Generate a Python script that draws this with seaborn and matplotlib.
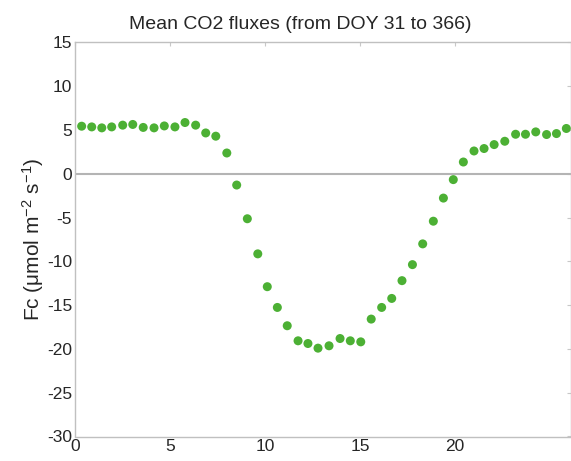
import matplotlib.pyplot as plt
import pandas as pd
import seaborn as sns

# half-hourly mean CO2 flux
hours = [0.35, 0.88, 1.41, 1.93, 2.51, 3.04, 3.59, 4.16, 4.70, 5.26,
         5.79, 6.35, 6.88, 7.41, 7.99, 8.51, 9.07, 9.62, 10.12, 10.65,
         11.17, 11.74, 12.26, 12.79, 13.37, 13.95, 14.49, 15.04, 15.59, 16.14,
         16.67, 17.21, 17.76, 18.30, 18.86, 19.39, 19.91, 20.44, 21.00, 21.53,
         22.06, 22.62, 23.19, 23.71, 24.25, 24.82, 25.34, 25.86]
fc = [5.44, 5.36, 5.25, 5.36, 5.56, 5.64, 5.30, 5.25, 5.47, 5.36,
      5.86, 5.56, 4.67, 4.30, 2.38, -1.28, -5.13, -9.14, -12.89, -15.26,
      -17.35, -19.07, -19.38, -19.91, -19.64, -18.81, -19.07, -19.19, -16.59, -15.26,
      -14.23, -12.20, -10.37, -8.00, -5.41, -2.77, -0.66, 1.35, 2.61, 2.89,
      3.34, 3.72, 4.52, 4.52, 4.79, 4.49, 4.60, 5.18]

df = pd.DataFrame({"hour": hours, "fc": fc})

sns.set_style("white")
plt.rcParams['font.family'] = ['Liberation Sans', 'DejaVu Sans']
plt.rcParams['axes.unicode_minus'] = False
plt.rcParams['mathtext.default'] = 'regular'

fig = plt.figure(figsize=(5.71, 4.61), dpi=100)
ax = fig.add_axes([75 / 571, 1 - 436.5 / 461, 1 - 75 / 571, (436.5 - 42.5) / 461])

ax.axhline(0, color='#b4b4b4', lw=1.5, zorder=1)
sns.scatterplot(data=df, x="hour", y="fc", ax=ax, color='#4cb034',
                s=42, edgecolor='none', zorder=3, legend=False)

ax.set_xlim(0, 496 / 19)
ax.set_ylim(-30, 15)
ax.set_xticks([0, 5, 10, 15, 20])
ax.set_yticks(range(-30, 16, 5))
ax.tick_params(direction='in', length=3, color='#c8c8c8', labelsize=12.5, pad=2,
               top=True, right=True)
for sp in ax.spines.values():
    sp.set_color('#c0c0c0')
    sp.set_linewidth(1)

ax.set_xlabel('')
ax.set_ylabel('Fc (\u03bcmol m$^{-2}$ s$^{-1}$)', fontsize=15, labelpad=1)
ax.set_title('Mean CO2 fluxes (from DOY 31 to 366)', fontsize=14,
             x=(300 - 75) / 496, pad=10)

fig.savefig('out.png', dpi=100)
